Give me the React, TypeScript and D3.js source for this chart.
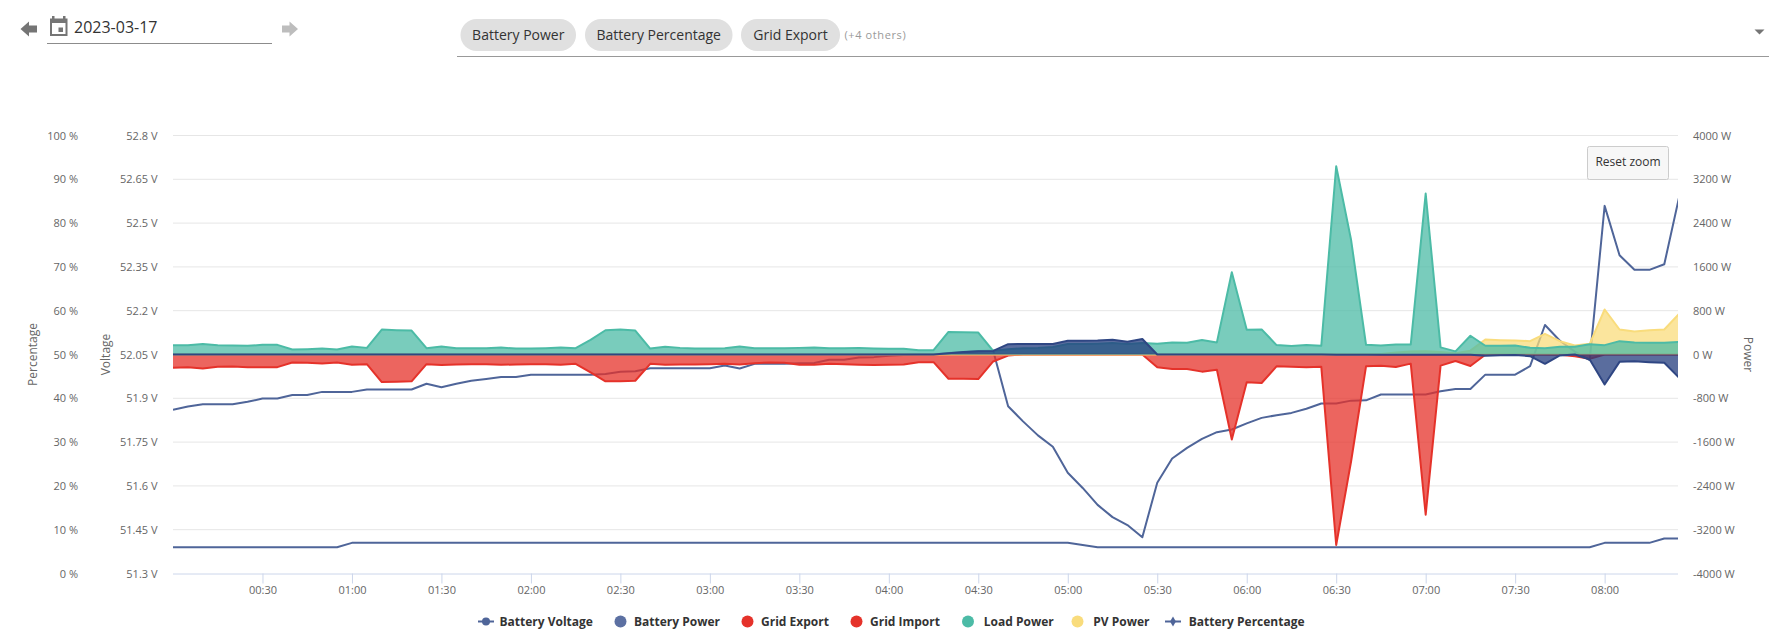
import React, { useEffect, useRef } from 'react'
import * as d3 from 'd3'

const W = 1769
const H = 641
const margin = { top: 135.5, right: 91, bottom: 67.5, left: 173 }

// one reading every 5 minutes, last one falls just past the zoomed edge
const sampleMinutes = d3.range(0, 510, 5)
const xTicks = [30, 60, 90, 120, 150, 180, 210, 240, 270, 300, 330, 360, 390, 420, 450, 480]
const percentTicks = [0, 10, 20, 30, 40, 50, 60, 70, 80, 90, 100]
const voltageTicks = [51.3, 51.45, 51.6, 51.75, 51.9, 52.05, 52.2, 52.35, 52.5, 52.65, 52.8]
const powerTicks = [-4000, -3200, -2400, -1600, -800, 0, 800, 1600, 2400, 3200, 4000]
const chips = ['Battery Power', 'Battery Percentage', 'Grid Export']

const batteryVoltage = [
    51.861, 51.872, 51.88, 51.88, 51.88, 51.888, 51.899, 51.899, 51.911, 51.911,
    51.922, 51.922, 51.922, 51.93, 51.93, 51.93, 51.93, 51.95, 51.938, 51.95,
    51.96, 51.966, 51.973, 51.973, 51.981, 51.981, 51.981, 51.981, 51.981, 51.983,
    51.991, 51.993, 52.003, 52.003, 52.003, 52.003, 52.003, 52.012, 52.002, 52.018,
    52.018, 52.018, 52.02, 52.021, 52.032, 52.032, 52.04, 52.041, 52.046, 52.048,
    52.05, 52.05, 52.055, 52.058, 52.062, 52.063, 51.873, 51.821, 51.773, 51.734,
    51.645, 51.593, 51.535, 51.493, 51.466, 51.424, 51.611, 51.694, 51.73, 51.761,
    51.784, 51.793, 51.814, 51.833, 51.842, 51.85, 51.864, 51.882, 51.882, 51.892,
    51.893, 51.913, 51.913, 51.913, 51.913, 51.924, 51.932, 51.932, 51.981, 51.981,
    51.981, 52.01, 52.151, 52.097, 52.06, 52.031, 52.559, 52.39, 52.34, 52.34, 52.359, 52.59,
]
const batteryPercentage = [
    6, 6, 6, 6, 6, 6, 6, 6, 6, 6, 6, 6, 7, 7, 7, 7, 7, 7, 7, 7,
    7, 7, 7, 7, 7, 7, 7, 7, 7, 7, 7, 7, 7, 7, 7, 7, 7, 7, 7, 7,
    7, 7, 7, 7, 7, 7, 7, 7, 7, 7, 7, 7, 7, 7, 7, 7, 7, 7, 7, 7,
    7, 6.5, 6, 6, 6, 6, 6, 6, 6, 6, 6, 6, 6, 6, 6, 6, 6, 6, 6, 6,
    6, 6, 6, 6, 6, 6, 6, 6, 6, 6, 6, 6, 6, 6, 6, 6, 7, 7, 7, 7, 8, 8,
]
const batteryPower = [
    0, 0, 0, 0, 0, 0, 0, 0, 0, 0, 0, 0, 0, 0, 0, 0, 0, 0, 0, 0,
    0, 0, 0, 0, 0, 0, 0, 0, 0, 0, 0, 0, 0, 0, 0, 0, 0, 0, 0, 0,
    0, 0, 0, 0, 0, 0, 0, 0, 0, 0, 0, 0, 25, 45, 60, 65, 188, 194, 194, 190,
    251, 251, 257, 270, 233, 282, 0, 0, 0, 0, 0, 0, 0, 0, 0, 0, 0, 0, -5, -5,
    -5, -5, -5, -5, -5, -5, -5, -5, -25, -15, -10, -30, -170, -18, 0, -91, -548, -134, -122, -140, -152, -426,
]
const gridExport = [
    0, 0, 0, 0, 0, 0, 0, 0, 0, 0, 0, 0, 0, 0, 0, 0, 0, 0, 0, 0,
    0, 0, 0, 0, 0, 0, 0, 0, 0, 0, 0, 0, 0, 0, 0, 0, 0, 0, 0, 0,
    0, 0, 0, 0, 0, 0, 0, 0, 0, 0, 0, 0, 0, 0, 0, 0, 0, 0, 0, 0,
    0, 0, 0, 0, 0, 0, 0, 0, 0, 0, 0, 0, 0, 0, 0, 0, 0, 0, 0, 0,
    0, 0, 0, 0, 0, 0, 0, 0, 0, 0, 0, 0, 0, 0, 0, 0, 0, 0, 0, 0, 0, 0,
]
const gridImport = [
    -243, -231, -255, -225, -219, -231, -231, -231, -146, -152,
    -164, -146, -188, -176, -503, -497, -490, -176, -194, -182,
    -176, -176, -188, -182, -176, -176, -188, -170, -328, -490,
    -490, -480, -170, -188, -182, -182, -176, -170, -182, -158,
    -146, -152, -188, -188, -170, -176, -188, -194, -188, -182,
    -140, -140, -443, -443, -449, -127, -20, 0, 0, 0,
    0, 0, 0, 0, 0, 0, -234, -265, -265, -313,
    -277, -1551, -507, -520, -216, -222, -234, -222, -3480, -1950,
    -216, -204, -228, -167, -2927, -204, -119, -210, -4, 0,
    0, 0, 0, -5, -30, -80, 0, 0, 0, 0, 0, 0,
]
const loadPower = [
    170, 170, 194, 170, 164, 158, 176, 176, 91, 97,
    109, 91, 146, 121, 455, 443, 437, 115, 146, 115,
    115, 115, 127, 109, 109, 115, 127, 115, 267, 443,
    455, 437, 109, 140, 121, 109, 109, 115, 146, 115,
    115, 115, 121, 127, 115, 115, 121, 109, 103, 103,
    79, 79, 413, 407, 400, 67, 97, 115, 121, 136,
    190, 190, 197, 209, 190, 209, 197, 221, 215, 263,
    221, 1503, 451, 458, 172, 154, 172, 160, 3439, 2091,
    178, 166, 184, 184, 2941, 130, 57, 342, 160, 158,
    164, 122, 116, 140, 140, 189, 171, 244, 219, 213, 213, 231,
]
const pvPower = [
    0, 0, 0, 0, 0, 0, 0, 0, 0, 0, 0, 0, 0, 0, 0, 0, 0, 0, 0, 0,
    0, 0, 0, 0, 0, 0, 0, 0, 0, 0, 0, 0, 0, 0, 0, 0, 0, 0, 0, 0,
    0, 0, 0, 0, 0, 0, 0, 0, 0, 0, 0, 0, 0, 0, 0, 0, 0, 0, 0, 0,
    0, 0, 0, 0, 0, 0, 0, 0, 0, 0, 0, 0, 0, 0, 0, 0, 0, 0, 0, 0,
    0, 10, 35, 55, 60, 45, 25, 70, 274, 262,
    256, 244, 378, 244, 164, 195, 822, 457, 420, 445, 457, 743,
]

const seriesColor: Record<string, string> = {
    'Battery Voltage': '#4f6599',
    'Battery Power': '#2f4683',
    'Grid Export': '#e5322a',
    'Grid Import': '#e5322a',
    'Load Power': '#4cbba6',
    'PV Power': '#f9dc7c',
    'Battery Percentage': '#4f6599',
}
const legendColor: Record<string, string> = { ...seriesColor, 'Battery Power': '#5c70a2' }
const areaColor: Record<string, string> = { ...seriesColor, 'Battery Power': '#233c7d' }

const legendItems = [
    { name: 'Battery Voltage', kind: 'line', at: 486, labelX: 499.5 },
    { name: 'Battery Power', kind: 'dot', at: 620.5, labelX: 634 },
    { name: 'Grid Export', kind: 'dot', at: 747.5, labelX: 761 },
    { name: 'Grid Import', kind: 'dot', at: 856.5, labelX: 870 },
    { name: 'Load Power', kind: 'dot', at: 968, labelX: 983.8 },
    { name: 'PV Power', kind: 'dot', at: 1077.5, labelX: 1093.3 },
    { name: 'Battery Percentage', kind: 'diamond', at: 1173, labelX: 1188.8 },
]

const font = '"Open Sans", sans-serif'

function App() {
    const ref = useRef<SVGSVGElement>(null)

    useEffect(() => {
        const svg = d3.select(ref.current)
        svg.selectAll('*').remove()

        const x = d3.scaleLinear().domain([0, 504.6]).range([margin.left, W - margin.right])
        const yPct = d3.scaleLinear().domain([0, 100]).range([H - margin.bottom, margin.top])
        const yVolt = d3.scaleLinear().domain([51.3, 52.8]).range([H - margin.bottom, margin.top])
        const yPow = d3.scaleLinear().domain([-4000, 4000]).range([H - margin.bottom, margin.top])

        svg.append('defs').append('clipPath').attr('id', 'plot-clip').append('rect')
            .attr('x', margin.left).attr('y', margin.top - 2)
            .attr('width', W - margin.left - margin.right).attr('height', H - margin.top - margin.bottom + 4)

        // grid
        svg.append('g').selectAll('line').data(percentTicks.slice(1)).join('line')
            .attr('x1', margin.left).attr('x2', W - margin.right)
            .attr('y1', d => yPct(d)).attr('y2', d => yPct(d))
            .attr('stroke', '#e6e6e6').attr('stroke-width', 1)

        // axes
        const styleAxis = (g: any) => {
            g.select('.domain').remove()
            g.selectAll('text').attr('fill', '#666').style('font-size', '11px').style('font-family', font)
        }
        svg.append('g').attr('transform', `translate(78,0)`)
            .call(d3.axisLeft(yPct).tickValues(percentTicks).tickSize(0).tickPadding(0).tickFormat((d: any) => `${d} %`))
            .call(styleAxis)
        svg.append('g').attr('transform', `translate(157.5,0)`)
            .call(d3.axisLeft(yVolt).tickValues(voltageTicks).tickSize(0).tickPadding(0).tickFormat((d: any) => `${+d.toFixed(2)} V`))
            .call(styleAxis)
        svg.append('g').attr('transform', `translate(1693,0)`)
            .call(d3.axisRight(yPow).tickValues(powerTicks).tickSize(0).tickPadding(0).tickFormat((d: any) => `${d} W`))
            .call(styleAxis)

        const fmt = (m: number) => `${String(Math.floor(m / 60)).padStart(2, '0')}:${String(m % 60).padStart(2, '0')}`
        const xAxis = svg.append('g').attr('transform', `translate(0,${H - margin.bottom})`)
            .call(d3.axisBottom(x).tickValues(xTicks).tickSize(10).tickPadding(3).tickFormat((d: any) => fmt(d)))
            .call((g: any) => g.selectAll('text').attr('fill', '#666').style('font-size', '11px').style('font-family', font))
        xAxis.select('.domain').attr('stroke', '#ccd6eb').attr('d', `M${margin.left},0.5H${W - margin.right}`)
        xAxis.selectAll('line').attr('stroke', '#ccd6eb')

        // axis titles
        const title = (label: string, tx: number, ty: number, rot: number) =>
            svg.append('text').text(label)
                .attr('transform', `translate(${tx},${ty}) rotate(${rot})`)
                .attr('text-anchor', 'middle').attr('dy', '0.35em')
                .attr('fill', '#666').style('font-size', '12px').style('font-family', font)
        title('Percentage', 33, 354.5, -90)
        title('Voltage', 106, 354.5, -90)
        title('Power', 1748, 354.5, 90)

        // series
        const plot = svg.append('g').attr('clip-path', 'url(#plot-clip)')
        const lineOf = (values: number[], y: any) =>
            d3.line<number>().x((_, i) => x(sampleMinutes[i])).y(d => y(d))(values)
        const areaOf = (values: number[]) =>
            d3.area<number>().x((_, i) => x(sampleMinutes[i])).y0(yPow(0)).y1(d => yPow(d))(values)

        const drawLine = (name: string, values: number[], y: any) =>
            plot.append('path').attr('d', lineOf(values, y)).attr('fill', 'none')
                .attr('stroke', seriesColor[name]).attr('stroke-width', 2).attr('stroke-linejoin', 'round')
        const drawArea = (name: string, values: number[]) => {
            plot.append('path').attr('d', areaOf(values)).attr('fill', areaColor[name])
                .attr('fill-opacity', 0.75)
            drawLine(name, values, yPow)
        }

        // stacking seen in the picture: pv under load, battery on top of both
        drawLine('Battery Voltage', batteryVoltage, yVolt)
        drawArea('Grid Export', gridExport)
        drawArea('Grid Import', gridImport)
        drawArea('PV Power', pvPower)
        drawArea('Load Power', loadPower)
        drawArea('Battery Power', batteryPower)
        drawLine('Battery Percentage', batteryPercentage, yPct)

        // legend
        const legend = svg.append('g')
        const legendY = 621.5
        legendItems.forEach(item => {
            const c = legendColor[item.name]
            if (item.kind !== 'dot') {
                legend.append('line').attr('x1', item.at - 8).attr('x2', item.at + 8)
                    .attr('y1', legendY).attr('y2', legendY).attr('stroke', c).attr('stroke-width', 2)
            }
            if (item.kind === 'diamond') {
                legend.append('path').attr('d', d3.symbol(d3.symbolDiamond, 30)())
                    .attr('transform', `translate(${item.at},${legendY})`).attr('fill', c)
            } else {
                legend.append('circle').attr('cx', item.at).attr('cy', legendY)
                    .attr('r', item.kind === 'dot' ? 6 : 4).attr('fill', c)
            }
            legend.append('text').text(item.name)
                .attr('x', item.labelX).attr('y', legendY + 4.5)
                .attr('fill', '#333').style('font-size', '12px').style('font-weight', 700).style('font-family', font)
        })

        // reset zoom button
        const reset = svg.append('g')
        reset.append('rect').attr('x', 1587.5).attr('y', 146.5).attr('width', 81).attr('height', 33).attr('rx', 2)
            .attr('fill', '#f7f7f7').attr('stroke', '#cccccc')
        reset.append('text').text('Reset zoom').attr('x', 1628).attr('y', 166).attr('text-anchor', 'middle')
            .attr('fill', '#333').style('font-size', '12px').style('font-family', font)

        // date picker and series selector above the chart
        const top = svg.append('g').style('font-family', font)
        top.append('path').attr('d', 'M20.5,29 L29,21.5 V25.5 H37 V32.5 H29 V36.5 Z').attr('fill', '#757575')
        top.append('path').attr('d', 'M298,29 L289.5,21.5 V25.5 H282 V32.5 H289.5 V36.5 Z').attr('fill', '#bdbdbd')
        top.append('path')
            .attr('d', 'M52,16 h2.5 v2.5 h8.5 v-2.5 h2.5 v2.5 h2 v17.5 h-17.5 v-17.5 h2 Z M52,23 v11 h13.5 v-11 Z M58.5,27.5 h4.5 v4.5 h-4.5 Z')
            .attr('fill', '#757575').attr('fill-rule', 'evenodd')
        top.append('text').text('2023-03-17').attr('x', 74).attr('y', 33).attr('fill', '#333').style('font-size', '16px')
        top.append('line').attr('x1', 47).attr('x2', 272).attr('y1', 43.5).attr('y2', 43.5).attr('stroke', '#8c8c8c')

        const chipSpans = [[460.5, 576], [585, 732.5], [741, 840]]
        chips.forEach((label, i) => {
            const [a, b] = chipSpans[i]
            top.append('rect').attr('x', a).attr('y', 19).attr('width', b - a).attr('height', 32).attr('rx', 16).attr('fill', '#e0e0e0')
            top.append('text').text(label).attr('x', (a + b) / 2).attr('y', 40).attr('text-anchor', 'middle')
                .attr('fill', '#333').style('font-size', '14px')
        })
        top.append('text').text('(+4 others)').attr('x', 844.5).attr('y', 39).attr('fill', '#999')
            .style('font-size', '11px').style('letter-spacing', '0.6px')
        top.append('line').attr('x1', 457).attr('x2', W).attr('y1', 56.5).attr('y2', 56.5).attr('stroke', '#999')
        top.append('path').attr('d', 'M1754.5,29.5 h10 l-5,5 Z').attr('fill', '#757575')
    }, [])

    return (
        <div style={{ position: 'absolute', left: 0, top: 0 }}>
            <svg ref={ref} width={W} height={H} style={{ display: 'block' }} />
        </div>
    )
}

export default App
